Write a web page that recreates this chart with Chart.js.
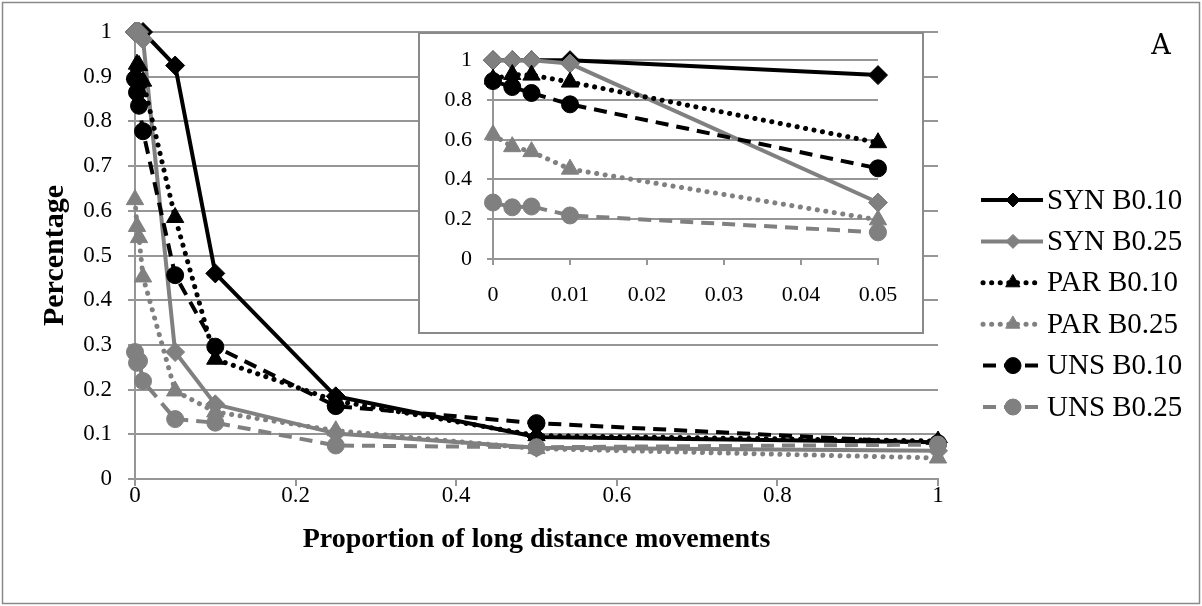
<!DOCTYPE html>
<html><head><meta charset="utf-8">
<script src="https://cdn.jsdelivr.net/npm/chart.js@4"></script>
<style>
html,body{margin:0;padding:0;background:#fff;}
#wrap{position:relative;width:1202px;height:606px;overflow:hidden;}
#main{position:absolute;left:0;top:0;width:1202px;height:606px;}
#inset{position:absolute;left:418px;top:32px;width:506px;height:302px;}
</style></head><body>
<div id="wrap">
<canvas id="main" width="1202" height="606"></canvas>
<canvas id="inset" width="506" height="302"></canvas>
</div>
<script>
// ---- data ----
const xValues = [0, 0.0025, 0.005, 0.01, 0.05, 0.1, 0.25, 0.5, 1];
const seriesNames = ['SYN B0.10', 'SYN B0.25', 'PAR B0.10', 'PAR B0.25', 'UNS B0.10', 'UNS B0.25'];
const synB010 = [1, 1, 1, 1, 0.925, 0.46, 0.185, 0.094, 0.082];
const synB025 = [1, 1, 1, 0.983, 0.284, 0.167, 0.102, 0.07, 0.063];
const parB010 = [0.905, 0.928, 0.925, 0.89, 0.585, 0.268, 0.175, 0.097, 0.085];
const parB025 = [0.625, 0.565, 0.54, 0.452, 0.197, 0.15, 0.108, 0.068, 0.047];
const unsB010 = [0.895, 0.865, 0.835, 0.778, 0.456, 0.296, 0.163, 0.125, 0.08];
const unsB025 = [0.284, 0.26, 0.264, 0.219, 0.134, 0.126, 0.075, 0.071, 0.077];
const mainXTickLabels = ['0', '0.2', '0.4', '0.6', '0.8', '1'];
const mainYTickLabels = ['0', '0.1', '0.2', '0.3', '0.4', '0.5', '0.6', '0.7', '0.8', '0.9', '1'];
const insetXTickLabels = ['0', '0.01', '0.02', '0.03', '0.04', '0.05'];
const insetYTickLabels = ['0', '0.2', '0.4', '0.6', '0.8', '1'];
const xAxisTitle = 'Proportion of long distance movements';
const yAxisTitle = 'Percentage';
const panelLabel = 'A';

// ---- styles ----
const BLACK = '#000000', GRAY = '#808080', GRID = '#969696';
const SERIF = '"Liberation Serif", "Times New Roman", serif';
const DOT = [0.1, 8.5], DASH = [13, 8];
const styles = [
  {color: BLACK, dash: [], cap: 'butt', w: 4, point: 'rectRot', r: 9.5, lr: 7},
  {color: GRAY, dash: [], cap: 'butt', w: 4, point: 'rectRot', r: 9.5, lr: 7},
  {color: BLACK, dash: DOT, cap: 'round', w: 5, point: 'triangle', r: 10, lr: 8},
  {color: GRAY, dash: DOT, cap: 'round', w: 5, point: 'triangle', r: 10, lr: 8},
  {color: BLACK, dash: DASH, cap: 'butt', w: 4, point: 'circle', r: 8.5, lr: 8},
  {color: GRAY, dash: DASH, cap: 'butt', w: 4, point: 'circle', r: 8.5, lr: 8}
];
const seriesValues = [synB010, synB025, parB010, parB025, unsB010, unsB025];

function buildDatasets(maxX) {
  return seriesValues.map((vals, i) => {
    const s = styles[i];
    return {
      label: seriesNames[i],
      data: xValues.map((x, j) => ({x: x, y: vals[j]})).filter(p => p.x <= maxX + 1e-12),
      borderColor: s.color, backgroundColor: s.color,
      pointBackgroundColor: s.color, pointBorderColor: s.color,
      borderWidth: s.w, borderDash: s.dash, borderCapStyle: s.cap, borderJoinStyle: 'round',
      pointStyle: s.point, pointRadius: s.r, pointBorderWidth: 1, pointHoverRadius: s.r,
      tension: 0, fill: false, clip: false, order: 6 - i
    };
  });
}

const P = Chart.helpers;

const mainDecor = {
  id: 'mainDecor',
  beforeDraw(chart) {
    const ctx = chart.ctx;
    ctx.save();
    ctx.fillStyle = '#fff';
    ctx.fillRect(0, 0, chart.width, chart.height);
    ctx.strokeStyle = '#8a8a8a';
    ctx.lineWidth = 1.5;
    ctx.strokeRect(2.5, 2.5, chart.width - 5, chart.height - 5);
    ctx.restore();
  },
  afterDraw(chart) {
    const ctx = chart.ctx;
    ctx.save();
    // panel label
    ctx.fillStyle = '#000';
    ctx.font = '27px "DejaVu Serif", serif';
    ctx.textAlign = 'center';
    ctx.textBaseline = 'middle';
    ctx.fillText(panelLabel, 1161, 47);
    // legend
    const y0 = 200, dy = 41.4;
    seriesNames.forEach((name, i) => {
      const s = styles[i];
      const y = y0 + i * dy;
      ctx.strokeStyle = s.color;
      ctx.fillStyle = s.color;
      ctx.lineWidth = s.w;
      ctx.lineCap = s.cap;
      ctx.setLineDash(s.dash);
      ctx.beginPath();
      ctx.moveTo(s.dash.length ? 983 : 981, y);
      ctx.lineTo(1043, y);
      ctx.stroke();
      ctx.setLineDash([]);
      ctx.lineWidth = 1;
      P.drawPoint(ctx, {pointStyle: s.point, radius: s.lr, rotation: 0, borderWidth: 1}, 1013, y);
      ctx.fillStyle = '#000';
      ctx.font = '29px ' + SERIF;
      ctx.textAlign = 'left';
      ctx.textBaseline = 'middle';
      ctx.fillText(name, 1047, y + 1);
    });
    ctx.restore();
  }
};

new Chart(document.getElementById('main'), {
  type: 'line',
  data: {datasets: buildDatasets(1)},
  options: {
    responsive: false, animation: false, devicePixelRatio: 1,
    layout: {padding: {left: 0, top: 32, right: 264, bottom: 0}},
    plugins: {legend: {display: false}, tooltip: {enabled: false}},
    scales: {
      x: {
        type: 'linear', min: 0, max: 1,
        afterFit(s) { s.height = 127; },
        afterBuildTicks(s) { s.ticks = mainXTickLabels.map((t, i) => ({value: i * 0.2})); },
        ticks: {
          callback: (v, i) => mainXTickLabels[i],
          font: {family: SERIF, size: 23, lineHeight: 1}, color: '#000', padding: -2, maxRotation: 0, autoSkip: false
        },
        grid: {drawOnChartArea: false, drawTicks: true, tickLength: 7, color: GRID, lineWidth: 2},
        border: {display: true, color: GRID, width: 2},
        title: {display: true, text: xAxisTitle, color: '#000', font: {family: SERIF, size: 28, weight: 'bold'}, padding: {top: 0, bottom: 49}}
      },
      y: {
        type: 'linear', min: 0, max: 1,
        afterFit(s) { s.width = 135; },
        afterBuildTicks(s) { s.ticks = mainYTickLabels.map((t, i) => ({value: i / 10})); },
        ticks: {
          callback: (v, i) => mainYTickLabels[i],
          font: {family: SERIF, size: 23}, color: '#000', padding: 16, autoSkip: false
        },
        grid: {drawOnChartArea: true, drawTicks: true, tickLength: 7, color: GRID, lineWidth: 2},
        border: {display: true, color: GRID, width: 2},
        title: {display: true, text: yAxisTitle, color: '#000', font: {family: SERIF, size: 30, weight: 'bold'}, padding: {top: 37, bottom: 0}}
      }
    }
  },
  plugins: [mainDecor]
});

const insetDecor = {
  id: 'insetDecor',
  beforeDraw(chart) {
    const ctx = chart.ctx;
    ctx.save();
    ctx.fillStyle = '#fff';
    ctx.fillRect(0, 0, chart.width, chart.height);
    ctx.strokeStyle = '#8a8a8a';
    ctx.lineWidth = 2;
    ctx.strokeRect(1, 1, chart.width - 2, chart.height - 2);
    ctx.restore();
  }
};

new Chart(document.getElementById('inset'), {
  type: 'line',
  data: {datasets: buildDatasets(0.05)},
  options: {
    responsive: false, animation: false, devicePixelRatio: 1,
    layout: {padding: {left: 0, top: 28, right: 46, bottom: 0}},
    plugins: {legend: {display: false}, tooltip: {enabled: false}},
    scales: {
      x: {
        type: 'linear', min: 0, max: 0.05,
        afterFit(s) { s.height = 75; },
        afterBuildTicks(s) { s.ticks = insetXTickLabels.map((t, i) => ({value: i * 0.01})); },
        ticks: {
          callback: (v, i) => insetXTickLabels[i],
          font: {family: SERIF, size: 22}, color: '#000', padding: 17, maxRotation: 0, autoSkip: false
        },
        grid: {drawOnChartArea: false, drawTicks: true, tickLength: 6, color: GRID, lineWidth: 2},
        border: {display: true, color: GRID, width: 2}
      },
      y: {
        type: 'linear', min: 0, max: 1,
        afterFit(s) { s.width = 75; },
        afterBuildTicks(s) { s.ticks = insetYTickLabels.map((t, i) => ({value: i * 0.2})); },
        ticks: {
          callback: (v, i) => insetYTickLabels[i],
          font: {family: SERIF, size: 22}, color: '#000', padding: 15, autoSkip: false
        },
        grid: {drawOnChartArea: true, drawTicks: true, tickLength: 6, color: GRID, lineWidth: 2},
        border: {display: true, color: GRID, width: 2}
      }
    }
  },
  plugins: [insetDecor]
});
</script>
</body></html>
